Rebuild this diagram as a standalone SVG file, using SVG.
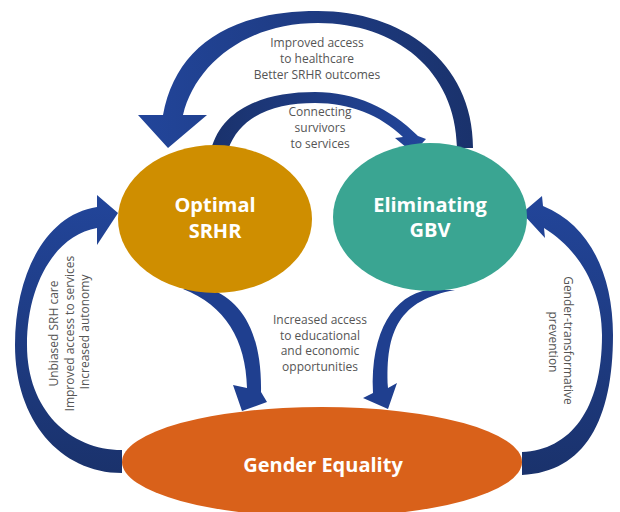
<svg xmlns="http://www.w3.org/2000/svg" width="620" height="512" viewBox="0 0 620 512">
  <defs>
    <linearGradient id="gH" x1="0" y1="0" x2="1" y2="0">
      <stop offset="0" stop-color="#22459A"/>
      <stop offset="1" stop-color="#1A326C"/>
    </linearGradient>
    <linearGradient id="gHr" x1="0" y1="0" x2="1" y2="0">
      <stop offset="0" stop-color="#1A326C"/>
      <stop offset="1" stop-color="#22459A"/>
    </linearGradient>
    <linearGradient id="gV" x1="0" y1="0" x2="0" y2="1">
      <stop offset="0" stop-color="#22459A"/>
      <stop offset="1" stop-color="#1A326C"/>
    </linearGradient>
    <style>
      .arrow { stroke: none; }
      .label { font-family: "Open Sans", "Liberation Sans", sans-serif; font-size: 12px; fill: #555555; text-anchor: middle; }
      .node-text { font-family: "Open Sans", "Liberation Sans", sans-serif; font-size: 20px; font-weight: bold; fill: #FFFFFF; text-anchor: middle; }
    </style>
  </defs>
  <rect width="620" height="512" fill="#FFFFFF"/>

  <g id="connectors">
    <!-- Top arc: Eliminating GBV -> Optimal SRHR -->
    <path class="arrow" fill="url(#gH)" d="M 473 148 C 473 60, 400 11, 318 11 C 225 11, 175 50, 163 115 L 138 115 L 168 148 L 207 115 L 183 115 C 195 65, 245 23, 318 23 C 395 23, 456 70, 457 148 Z"/>
    <!-- Inner arc: Optimal SRHR -> Eliminating GBV -->
    <path class="arrow" fill="url(#gHr)" d="M 211 150 C 222 108, 265 92, 315 92 C 355 92, 390 108, 418 136 L 426 139 L 413 153 L 395 138 L 403 137 C 380 115, 350 103, 315 103 C 275 103, 240 115, 228 150 Z"/>
    <!-- Left arc: Gender Equality -> Optimal SRHR -->
    <path class="arrow" fill="url(#gV)" d="M 97 207 L 97 195 L 118 213 L 97 245 L 97 228 C 55 235, 27 285, 27 345 C 27 410, 70 450, 122 450 L 122 473 C 60 473, 15 420, 15 345 C 15 275, 45 215, 97 207 Z"/>
    <!-- Right arc: Gender Equality -> Eliminating GBV -->
    <path class="arrow" fill="url(#gV)" d="M 543 206 L 542 196 L 522 213 L 545 238 L 544 228 C 580 250, 602 290, 602 335 C 602 410, 570 450, 522 452 L 522 475 C 585 472, 613 420, 613 335 C 613 275, 590 225, 543 206 Z"/>
    <!-- Middle left: Optimal SRHR -> Gender Equality -->
    <path class="arrow" fill="#1F3F8F" d="M 183 289 L 210 289 C 240 300, 262 330, 261 392 L 267 402 L 242 411 L 233 385 L 247 388 C 246 340, 225 305, 183 289 Z"/>
    <!-- Middle right: Eliminating GBV -> Gender Equality -->
    <path class="arrow" fill="#1F3F8F" d="M 455 290 C 400 300, 385 330, 388 388 L 397 383 L 388 409 L 363 398 L 373 393 C 370 330, 395 295, 428 290 Z"/>
  </g>

  <g id="labels">
    <text class="label" x="317" y="47">Improved access</text>
    <text class="label" x="317" y="63">to healthcare</text>
    <text class="label" x="317" y="79">Better SRHR outcomes</text>
    <text class="label" x="320" y="116">Connecting</text>
    <text class="label" x="320" y="132">survivors</text>
    <text class="label" x="320" y="148">to services</text>
    <text class="label" x="320" y="324">Increased access</text>
    <text class="label" x="320" y="339.5">to educational</text>
    <text class="label" x="320" y="355">and economic</text>
    <text class="label" x="320" y="370.5">opportunities</text>
    <text class="label" transform="translate(58,332) rotate(-90)">
      <tspan x="0" y="0">Unbiased SRH care</tspan>
      <tspan x="0" y="15.5">Improved access to services</tspan>
      <tspan x="0" y="31">Increased autonomy</tspan>
    </text>
    <text class="label" transform="translate(564,342) rotate(90)">
      <tspan x="0" y="0">Gender-transformative</tspan>
      <tspan x="0" y="15">prevention</tspan>
    </text>
  </g>

  <g id="node-srhr">
    <ellipse cx="215" cy="219" rx="97" ry="74" fill="#CF8E00"/>
    <text class="node-text"><tspan x="215" y="212">Optimal</tspan><tspan x="215" y="237.5">SRHR</tspan></text>
  </g>
  <g id="node-gbv">
    <ellipse cx="430" cy="217" rx="97" ry="74" fill="#3AA592"/>
    <text class="node-text"><tspan x="430" y="212">Eliminating</tspan><tspan x="430" y="237">GBV</tspan></text>
  </g>
  <g id="node-gender">
    <ellipse cx="322" cy="462" rx="200" ry="55" fill="#D9611A"/>
    <text class="node-text" x="323" y="472">Gender Equality</text>
  </g>
</svg>
